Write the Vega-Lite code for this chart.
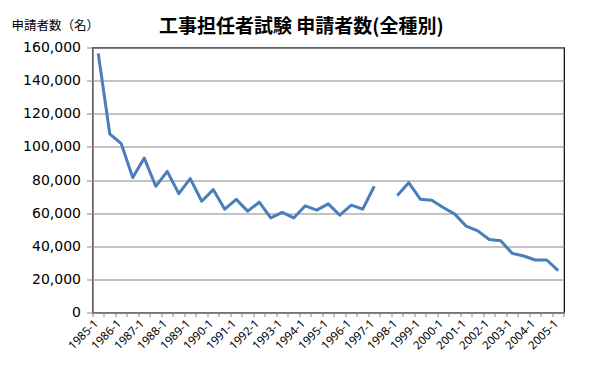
{
  "$schema": "https://vega.github.io/schema/vega-lite/v6.json",
  "width": 471.5,
  "height": 265,
  "autosize": {"type": "none"},
  "padding": {"left": 92.5, "top": 47.5, "right": 36, "bottom": 57.5},
  "background": "white",
  "title": {
    "text": "工事担任者試験 申請者数(全種別)",
    "font": "Noto Sans CJK JP",
    "fontSize": 19,
    "fontWeight": "bold",
    "color": "#000000",
    "anchor": "middle",
    "frame": "group",
    "dx": -27,
    "dy": 29,
    "offset": 11
  },
  "config": {
    "view": {"stroke": "#000000", "strokeWidth": 1.2}
  },
  "data": {
    "values": [
      {"period": "1985-1", "applicants": 156400},
      {"period": "1985-2", "applicants": 107900},
      {"period": "1986-1", "applicants": 101900},
      {"period": "1986-2", "applicants": 81500},
      {"period": "1987-1", "applicants": 93200},
      {"period": "1987-2", "applicants": 76200},
      {"period": "1988-1", "applicants": 85200},
      {"period": "1988-2", "applicants": 71800},
      {"period": "1989-1", "applicants": 80800},
      {"period": "1989-2", "applicants": 67200},
      {"period": "1990-1", "applicants": 74200},
      {"period": "1990-2", "applicants": 62400},
      {"period": "1991-1", "applicants": 68300},
      {"period": "1991-2", "applicants": 61200},
      {"period": "1992-1", "applicants": 66600},
      {"period": "1992-2", "applicants": 57100},
      {"period": "1993-1", "applicants": 60400},
      {"period": "1993-2", "applicants": 57100},
      {"period": "1994-1", "applicants": 64400},
      {"period": "1994-2", "applicants": 61800},
      {"period": "1995-1", "applicants": 65600},
      {"period": "1995-2", "applicants": 58800},
      {"period": "1996-1", "applicants": 64800},
      {"period": "1996-2", "applicants": 62400},
      {"period": "1997-1", "applicants": 76200},
      {"period": "1997-2", "applicants": null},
      {"period": "1998-1", "applicants": 70600},
      {"period": "1998-2", "applicants": 78400},
      {"period": "1999-1", "applicants": 68400},
      {"period": "1999-2", "applicants": 67800},
      {"period": "2000-1", "applicants": 63400},
      {"period": "2000-2", "applicants": 59400},
      {"period": "2001-1", "applicants": 52100},
      {"period": "2001-2", "applicants": 49300},
      {"period": "2002-1", "applicants": 44100},
      {"period": "2002-2", "applicants": 43300},
      {"period": "2003-1", "applicants": 35700},
      {"period": "2003-2", "applicants": 34100},
      {"period": "2004-1", "applicants": 31700},
      {"period": "2004-2", "applicants": 31700},
      {"period": "2005-1", "applicants": 25300}
    ]
  },
  "mark": {
    "type": "line",
    "color": "#4A7EBB",
    "strokeWidth": 3,
    "strokeJoin": "round",
    "invalid": "break-paths-show-domains"
  },
  "encoding": {
    "x": {
      "field": "period",
      "type": "ordinal",
      "sort": null,
      "scale": {"type": "band", "paddingInner": 0, "paddingOuter": 0},
      "axis": {
        "title": null,
        "bandPosition": 1,
        "tickExtra": true,
        "labelOffset": -5.75,
        "labelAngle": -45,
        "labelAlign": "right",
        "labelBaseline": "top",
        "labelOverlap": false,
        "labelExpr": "test(/-2$/, datum.label) ? '' : datum.label",
        "labelFont": "Noto Sans",
        "labelFontSize": 11.5,
        "labelColor": "#000000",
        "labelPadding": 1,
        "tickSize": 4,
        "tickColor": "#868686",
        "domainColor": "#868686",
        "grid": false
      }
    },
    "y": {
      "field": "applicants",
      "type": "quantitative",
      "scale": {"domain": [0, 160000], "nice": false},
      "axis": {
        "values": [0, 20000, 40000, 60000, 80000, 100000, 120000, 140000, 160000],
        "format": ",.0f",
        "labelFont": "DejaVu Sans",
        "labelFontSize": 14,
        "labelColor": "#000000",
        "labelPadding": 6,
        "tickSize": 6,
        "tickColor": "#868686",
        "domainColor": "#868686",
        "gridColor": "#868686",
        "gridWidth": 1,
        "title": "申請者数（名）",
        "titleFont": "Noto Sans CJK JP",
        "titleFontSize": 12.5,
        "titleFontWeight": "normal",
        "titleColor": "#000000",
        "titleAngle": 0,
        "titleAlign": "left",
        "titleBaseline": "middle",
        "titleX": -81.5,
        "titleY": -22.5
      }
    }
  }
}
